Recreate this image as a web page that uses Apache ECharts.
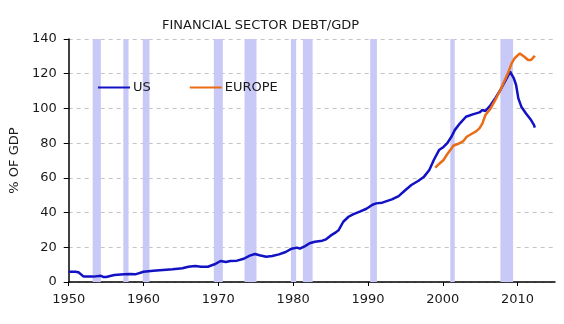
<!DOCTYPE html>
<html>
<head>
<meta charset="utf-8">
<script src="https://cdn.jsdelivr.net/npm/echarts@6/dist/echarts.min.js"></script>
<style>
html,body{margin:0;padding:0;background:#fff;}
#chart{width:564px;height:324px;}
</style>
</head>
<body>
<div id="chart"></div>
<script>
var titleText = "FINANCIAL SECTOR DEBT/GDP";
var yAxisName = "% OF GDP";
var seriesNames = ["US", "EUROPE"];

var usYears = [1950.0,1950.9,1951.3,1952.0,1953.3,1953.5,1954.3,1954.6,1955.0,1956.1,1957.4,1958.2,1958.9,1960.0,1961.3,1962.6,1963.9,1965.2,1966.0,1966.9,1967.7,1968.6,1969.5,1970.3,1971.0,1971.6,1972.5,1973.4,1974.2,1974.9,1975.5,1976.4,1977.2,1978.1,1979.0,1979.8,1980.5,1980.9,1981.6,1982.2,1982.9,1983.9,1984.4,1985.0,1985.7,1986.1,1986.7,1987.4,1988.0,1988.9,1989.8,1990.6,1991.1,1991.9,1993.2,1994.1,1994.9,1995.8,1996.7,1997.5,1998.2,1998.8,1999.5,2000.1,2000.6,2001.2,2001.6,2002.3,2003.1,2004.0,2004.9,2005.3,2005.7,2006.4,2007.0,2007.7,2008.3,2009.0,2009.2,2009.5,2009.8,2010.1,2010.5,2011.1,2011.8,2012.2,2012.3];
var usValues = [5.9,5.9,5.6,3.1,3.1,3.6,3.6,2.9,2.9,4.0,4.4,4.6,4.4,5.9,6.5,6.9,7.3,7.9,8.8,9.2,8.8,8.8,10.2,12.1,11.5,12.1,12.3,13.4,15.2,16.1,15.4,14.6,15.0,15.9,17.3,19.2,19.8,19.2,20.7,22.3,23.2,23.8,24.6,26.7,28.6,30.0,34.7,37.6,39.0,40.5,42.2,44.5,45.3,45.7,47.6,49.5,52.6,55.9,58.2,60.7,64.5,70.3,76.0,77.8,80.0,84.0,87.5,91.4,95.2,96.6,97.7,99.1,98.5,102.0,105.8,110.6,115.4,121.2,122.1,117.3,113.5,105.8,101.0,97.2,93.3,90.4,89.0];

var euYears = [1999.0,1999.5,2000.1,2000.5,2001.0,2001.4,2002.0,2002.7,2003.2,2004.0,2004.4,2004.9,2005.3,2005.7,2006.4,2007.0,2007.7,2008.3,2008.8,2009.2,2009.6,2010.3,2010.5,2010.9,2011.4,2011.8,2012.2,2012.3];
var euValues = [65.9,68.0,70.3,73.0,76.0,78.5,79.5,81.0,83.7,85.7,86.6,88.5,91.4,96.2,100.0,104.8,110.6,116.4,121.2,126.0,128.9,131.7,132.3,129.8,127.9,127.9,129.8,130.4];

var recessionStarts = [1953.2,1957.3,1959.9,1969.4,1973.5,1979.7,1981.3,1990.3,2001.0,2007.7];
var recessionEnds   = [1954.3,1958.0,1960.8,1970.6,1975.1,1980.4,1982.6,1991.2,2001.6,2009.4];

function zip(xs, ys){ var o=[]; for(var i=0;i<xs.length;i++){o.push([xs[i], ys[i]]);} return o; }
var bands = [];
for (var i=0;i<recessionStarts.length;i++){ bands.push([{xAxis:recessionStarts[i]},{xAxis:recessionEnds[i]}]); }

var font = "DejaVu Sans";
var chart = echarts.init(document.getElementById('chart'), null, {renderer:'canvas'});
chart.setOption({
  animation:false,
  backgroundColor:'#ffffff',
  title:{text:titleText, left:157, top:14, textStyle:{fontFamily:font, fontSize:13, fontWeight:'normal', color:'#1a1a1a'}},
  legend:{
    data:seriesNames, left:93, top:76, icon:'rect', itemWidth:32, itemHeight:2, itemGap:39,
    textStyle:{fontFamily:font, fontSize:13, color:'#1a1a1a', padding:[0,0,0,-2]}
  },
  grid:{left:53, right:9, top:39, bottom:42},
  xAxis:{
    type:'value', min:1950, max:2015, interval:10,
    axisLine:{lineStyle:{color:'#000', width:1.5}},
    axisTick:{show:true, length:4, lineStyle:{color:'#000'}},
    axisLabel:{fontFamily:font, fontSize:13, color:'#1a1a1a', margin:11, showMaxLabel:false,
      formatter:function(v){ return (v%10===0)? String(v) : ''; }},
    splitLine:{show:false}
  },
  yAxis:{
    type:'value', min:0, max:140, interval:20,
    name:yAxisName, nameLocation:'middle', nameGap:40, nameRotate:90,
    nameTextStyle:{fontFamily:font, fontSize:13, color:'#1a1a1a'},
    axisLine:{show:true, lineStyle:{color:'#000', width:1.5}},
    axisTick:{show:true, length:5, lineStyle:{color:'#000'}},
    axisLabel:{fontFamily:font, fontSize:13, color:'#1a1a1a', margin:12},
    splitLine:{show:true, lineStyle:{color:'#c4c4c4', type:[4,4], width:1}}
  },
  series:[
    {name:'bands', type:'line', data:[], z:1, silent:true,
      markArea:{silent:true, itemStyle:{color:'#c9c9f7'}, data:bands}},
    {name:seriesNames[0], type:'line', data:zip(usYears, usValues), symbol:'none', z:3,
      lineStyle:{color:'#1212c4', width:2.5}, itemStyle:{color:'#1212c4'}},
    {name:seriesNames[1], type:'line', data:zip(euYears, euValues), symbol:'none', z:4,
      lineStyle:{color:'#ea6c14', width:2.5}, itemStyle:{color:'#ea6c14'}}
  ]
});
</script>
</body>
</html>
